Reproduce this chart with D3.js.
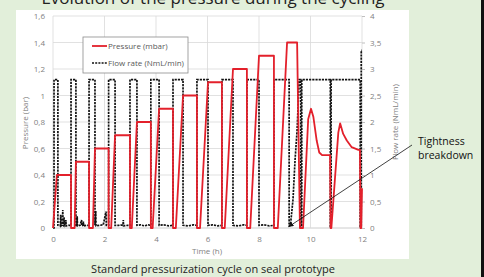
<!DOCTYPE html>
<html><head><meta charset="utf-8">
<script src="https://cdn.jsdelivr.net/npm/d3@7"></script>
<style>
html,body{margin:0;padding:0;background:#e2efda;}
svg{display:block;font-family:"Open Sans","Noto Sans",sans-serif;}
</style></head>
<body>
<svg id="c" width="484" height="277"></svg>
<script>
// ---- data ----
const xTicks = [0, 2, 4, 6, 8, 10, 12];
const leftTicks = [0, 0.2, 0.4, 0.6, 0.8, 1, 1.2, 1.4, 1.6];
const rightTicks = [0, 0.5, 1, 1.5, 2, 2.5, 3, 3.5, 4];
const seriesNames = ["Pressure (mbar)", "Flow rate (NmL/min)"];
const titleText = "Evolution of the pressure during the cycling";
const captionText = "Standard pressurization cycle on seal prototype";
const annotationLines = ["Tightness", "breakdown"];
const annotationTarget = [9.17, 0.03]; // time (h), flow

// pressure (bar) vs time (h)
const pressureTime = [0, 0.15, 0.70, 0.70, 0.84, 0.89, 1.40, 1.40, 1.55, 1.63, 2.16, 2.16, 2.26, 2.41, 2.99, 2.99, 3.06, 3.26, 3.80, 3.80, 3.87, 4.12, 4.66, 4.66, 4.77, 5.05, 5.59, 5.59, 5.71, 6.02, 6.56, 6.56, 6.67, 6.99, 7.53, 7.53, 7.66, 8.00, 8.58, 8.58, 8.73, 9.09, 9.48, 9.59, 9.71, 9.91, 10.02, 10.11, 10.24, 10.34, 10.45, 10.76, 10.78, 10.81, 11.08, 11.15, 11.27, 11.41, 11.60, 11.86, 11.92, 11.94, 11.97, 12.0];
const pressureVal  = [0, 0.40, 0.40, 0, 0, 0.50, 0.50, 0, 0, 0.60, 0.60, 0, 0, 0.70, 0.70, 0, 0, 0.80, 0.80, 0, 0, 0.90, 0.90, 0, 0, 1.00, 1.00, 0, 0, 1.10, 1.10, 0, 0, 1.20, 1.20, 0, 0, 1.30, 1.30, 0, 0, 1.40, 1.40, 0, 0, 0.82, 0.90, 0.84, 0.66, 0.57, 0.55, 0.55, 0, 0, 0.72, 0.79, 0.71, 0.66, 0.61, 0.59, 0.59, 0, 0, 0.30];

// flow rate (NmL/min) vs time (h)
const flowTime = [0, 0.04, 0.04, 0.19, 0.19, 0.28, 0.30, 0.31, 0.36, 0.38, 0.39, 0.42, 0.43, 0.44, 0.49, 0.50, 0.51, 0.60, 0.70,
  0.70, 0.89, 0.89, 0.93, 0.94, 0.95, 1.05, 1.11, 1.12, 1.17, 1.18, 1.19, 1.30, 1.40,
  1.40, 1.63, 1.63, 1.66, 1.67, 1.80, 1.95, 2.06, 2.07, 2.16,
  2.16, 2.41, 2.41, 2.55, 2.72, 2.73, 2.74, 2.90, 2.99,
  2.99, 3.26, 3.26, 3.40, 3.55, 3.70, 3.80,
  3.80, 4.12, 4.12, 4.30, 4.50, 4.66,
  4.66, 5.05, 5.05, 5.25, 5.45, 5.59,
  5.59, 6.02, 6.02, 6.20, 6.40, 6.56,
  6.56, 6.99, 6.99, 7.20, 7.40, 7.53,
  7.53, 8.00, 8.00, 8.20, 8.40, 8.58,
  8.58, 9.17, 9.17, 9.22, 9.32, 9.40, 9.48, 9.56, 9.62, 9.62, 9.66, 9.66,
  10.77, 10.77, 10.80, 10.80, 11.93, 11.93, 11.97, 11.97, 12.0];
const flowVal = [0, 0, 2.8, 2.8, 0.05, 0.04, 0.25, 0.04, 0.06, 0.34, 0.05, 0.04, 0.20, 0.05, 0.06, 0.15, 0.04, 0.05, 0.05,
  2.8, 2.8, 0.05, 0.05, 0.22, 0.04, 0.05, 0.15, 0.04, 0.05, 0.12, 0.04, 0.05, 0.05,
  2.8, 2.8, 0.05, 0.32, 0.04, 0.05, 0.06, 0.31, 0.05, 0.05,
  2.8, 2.8, 0.05, 0.05, 0.06, 0.15, 0.04, 0.05, 0.05,
  2.8, 2.8, 0.05, 0.06, 0.04, 0.06, 0.05,
  2.8, 2.8, 0.05, 0.06, 0.04, 0.05,
  2.8, 2.8, 0.05, 0.04, 0.06, 0.05,
  2.8, 2.8, 0.05, 0.06, 0.04, 0.05,
  2.8, 2.8, 0.05, 0.04, 0.06, 0.05,
  2.8, 2.8, 0.05, 0.06, 0.04, 0.05,
  2.8, 2.8, 0.04, 0.05, 0.53, 1.28, 1.85, 2.8, 2.8, 0.03, 0.03, 2.8,
  2.8, 0.03, 0.03, 2.8, 2.8, 0.03, 0.03, 3.35, 3.35];

// ---- drawing ----
const svg = d3.select("#c");
const fmt = v => d3.format("~g")(v).replace(".", ",");

svg.append("rect").attr("x", 0).attr("y", 0).attr("width", 484).attr("height", 277).attr("fill", "#e2efda");
svg.append("rect").attr("x", 481).attr("y", 0).attr("width", 3).attr("height", 277).attr("fill", "#111");

svg.append("text").attr("x", 213).attr("y", 4).attr("text-anchor", "middle")
  .attr("font-size", 17).attr("fill", "#222").text(titleText);

svg.append("rect").attr("x", 16).attr("y", 10).attr("width", 393).attr("height", 249).attr("fill", "#fff");

const x = d3.scaleLinear().domain([0, 12]).range([53, 362]);
const yL = d3.scaleLinear().domain([0, 1.6]).range([228, 16]);
const yR = d3.scaleLinear().domain([0, 4]).range([228, 16]);

// grid
const grid = svg.append("g");
grid.selectAll("line.h").data(leftTicks).join("line")
  .attr("x1", x(0)).attr("x2", x(12)).attr("y1", d => yL(d)).attr("y2", d => yL(d))
  .attr("stroke", d => d === 0 ? "#bfbfbf" : "#d9d9d9").attr("stroke-width", 0.8);
grid.selectAll("line.v").data(xTicks).join("line")
  .attr("x1", d => x(d)).attr("x2", d => x(d)).attr("y1", yL(0)).attr("y2", yL(1.6))
  .attr("stroke", "#d9d9d9").attr("stroke-width", 0.8);

// axes
const axL = svg.append("g").attr("transform", `translate(${x(0)},0)`)
  .call(d3.axisLeft(yL).tickValues(leftTicks).tickFormat(fmt).tickSize(0).tickPadding(8));
const axR = svg.append("g").attr("transform", `translate(${x(12)},0)`)
  .call(d3.axisRight(yR).tickValues(rightTicks).tickFormat(fmt).tickSize(3).tickPadding(5));
const axB = svg.append("g").attr("transform", `translate(0,${yL(0)})`)
  .call(d3.axisBottom(x).tickValues(xTicks).tickFormat(fmt).tickSize(0).tickPadding(8));
[axL, axR, axB].forEach(a => {
  a.select(".domain").remove();
  a.selectAll("text").attr("font-size", 8).attr("fill", "#7f7f7f").attr("font-family", "Open Sans, sans-serif");
  a.selectAll("line").attr("stroke", "#bfbfbf");
});

// axis titles
svg.append("text").attr("transform", `translate(28,123) rotate(-90)`).attr("text-anchor", "middle")
  .attr("font-size", 8).attr("fill", "#7f7f7f").text("Pressure (bar)");
svg.append("text").attr("transform", `translate(398,122) rotate(-90)`).attr("text-anchor", "middle")
  .attr("font-size", 8).attr("fill", "#7f7f7f").text("Flow rate (NmL/min)");
svg.append("text").attr("x", 207).attr("y", 254).attr("text-anchor", "middle")
  .attr("font-size", 8).attr("fill", "#7f7f7f").text("Time (h)");

// series
const flowData = flowTime.map((t, i) => [t, flowVal[i]]);
const presData = pressureTime.map((t, i) => [t, pressureVal[i]]);

svg.append("path").datum(flowData)
  .attr("d", d3.line().x(d => x(d[0])).y(d => yR(d[1])))
  .attr("fill", "none").attr("stroke", "#111").attr("stroke-width", 1.7)
  .attr("stroke-dasharray", "2.2,1");

svg.append("path").datum(presData)
  .attr("d", d3.line().x(d => x(d[0])).y(d => yL(d[1])))
  .attr("fill", "none").attr("stroke", "#e3202b").attr("stroke-width", 1.8)
  .attr("stroke-linejoin", "round");

// legend
const lg = svg.append("g");
lg.append("rect").attr("x", 83).attr("y", 37).attr("width", 105).attr("height", 36)
  .attr("fill", "#fff").attr("stroke", "#8c8c8c").attr("stroke-width", 0.8);
lg.append("line").attr("x1", 92).attr("x2", 107).attr("y1", 46).attr("y2", 46)
  .attr("stroke", "#e3202b").attr("stroke-width", 1.8);
lg.append("line").attr("x1", 92).attr("x2", 107).attr("y1", 63).attr("y2", 63)
  .attr("stroke", "#111").attr("stroke-width", 1.6).attr("stroke-dasharray", "2,1.2");
lg.selectAll("text").data(seriesNames).join("text")
  .attr("x", 108).attr("y", (d, i) => 49 + i * 17)
  .attr("font-size", 8).attr("fill", "#595959").text(d => d);

// annotation
svg.append("defs").append("marker").attr("id", "ah").attr("viewBox", "0 0 10 10")
  .attr("refX", 9).attr("refY", 5).attr("markerWidth", 6).attr("markerHeight", 6).attr("orient", "auto")
  .append("path").attr("d", "M0,0L10,5L0,10z").attr("fill", "#111");
svg.append("line").attr("x1", 412).attr("y1", 145)
  .attr("x2", x(annotationTarget[0])).attr("y2", yR(annotationTarget[1]))
  .attr("stroke", "#111").attr("stroke-width", 0.8).attr("marker-end", "url(#ah)");
svg.selectAll("text.ann").data(annotationLines).join("text").attr("class", "ann")
  .attr("x", 418).attr("y", (d, i) => 145 + i * 14)
  .attr("font-size", 10.5).attr("fill", "#111").text(d => d);

// caption
svg.append("text").attr("x", 213).attr("y", 273).attr("text-anchor", "middle")
  .attr("font-size", 11).attr("fill", "#222").text(captionText);
</script>
</body></html>
